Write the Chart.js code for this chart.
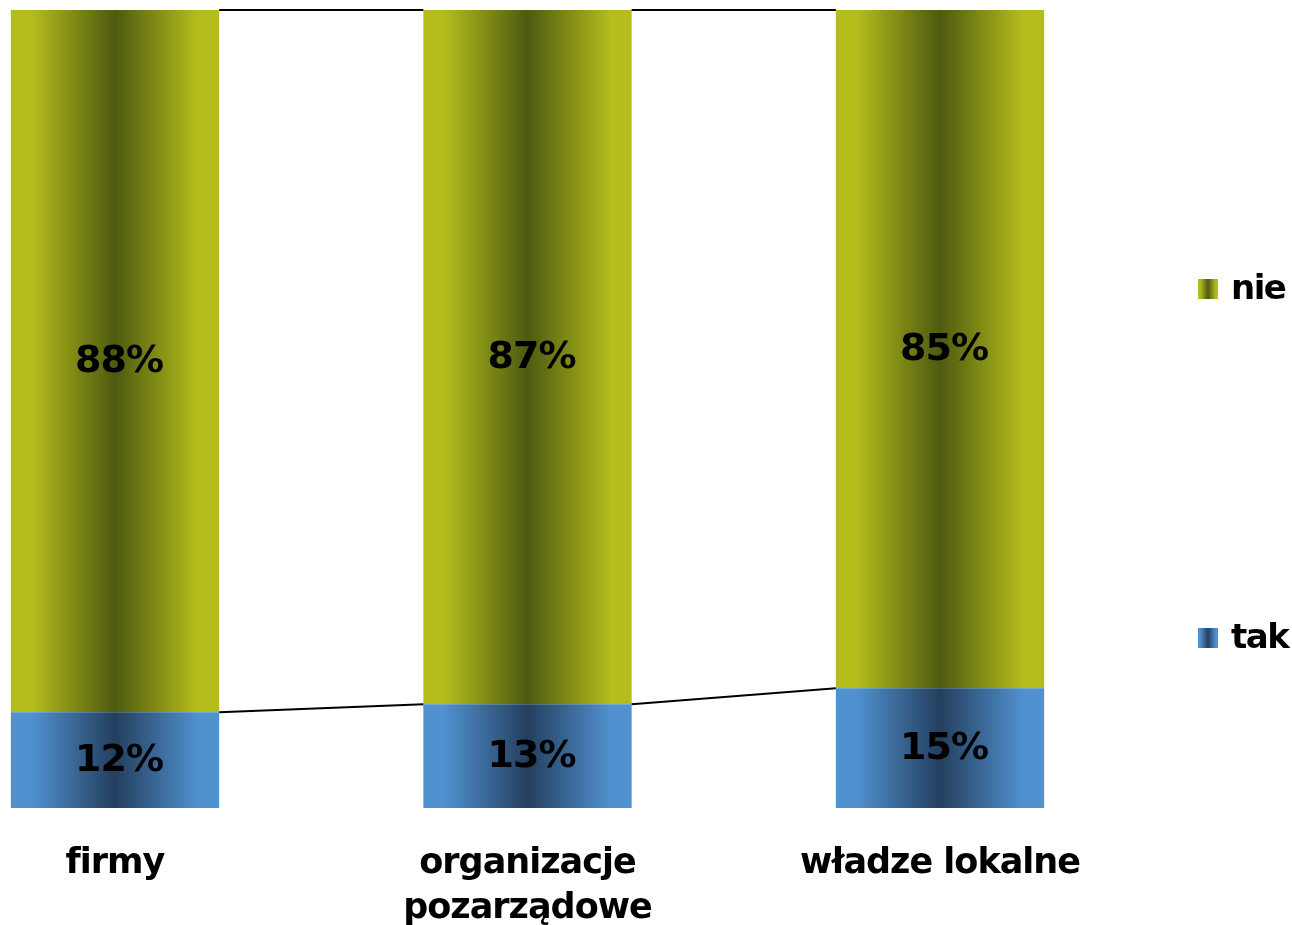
<!DOCTYPE html>
<html>
<head>
<meta charset="utf-8">
<script src="https://cdn.jsdelivr.net/npm/chart.js@4"></script>
<style>
  html, body { margin: 0; padding: 0; background: #fff; }
  #wrap { width: 1292px; height: 925px; position: relative; }
</style>
</head>
<body>
<div id="wrap"><canvas id="chart"></canvas></div>
<script>
// data
const categories = [["firmy"], ["organizacje", "pozarządowe"], ["władze lokalne"]];
const takValues = [12, 13, 15];
const nieValues = [88, 87, 85];
const seriesNames = ["tak", "nie"];

const FONT = "'DejaVu Sans', Verdana, sans-serif";
const BAR_PCT = 0.505;

// edge / centre colours of the horizontal "tube" fill
const shades = {
  tak: ["#5091cf", "#243f5f"],
  nie: ["#b4bd1c", "#4e5a10"]
};

function tube(ctx, x0, x1, pair) {
  const g = ctx.createLinearGradient(x0, 0, x1, 0);
  g.addColorStop(0, pair[0]);
  g.addColorStop(0.1, pair[0]);
  g.addColorStop(0.5, pair[1]);
  g.addColorStop(0.9, pair[0]);
  g.addColorStop(1, pair[0]);
  return g;
}

function barFill(context) {
  const chart = context.chart;
  const xs = chart.scales.x;
  const pair = shades[context.dataset.label];
  if (!xs || context.dataIndex === undefined) return pair[0];
  const step = xs.getPixelForValue(1) - xs.getPixelForValue(0);
  const cx = xs.getPixelForValue(context.dataIndex);
  if (!isFinite(step) || !isFinite(cx) || step <= 0) return pair[0];
  const half = step * BAR_PCT / 2;
  return tube(chart.ctx, cx - half, cx + half, pair);
}

// tighter lettering, like the original's condensed bold face
const tightText = {
  id: "tightText",
  beforeDraw(chart) { chart.ctx.letterSpacing = "-1px"; },
  afterDraw(chart) { chart.ctx.letterSpacing = "0px"; }
};

// series lines between bars + value labels inside
const seriesLines = {
  id: "seriesLines",
  afterDatasetsDraw(chart) {
    const ctx = chart.ctx;
    ctx.save();
    ctx.strokeStyle = "#000";
    ctx.lineWidth = 2;
    chart.data.datasets.forEach((ds, di) => {
      const bars = chart.getDatasetMeta(di).data;
      for (let i = 0; i < bars.length - 1; i++) {
        const a = bars[i], b = bars[i + 1];
        ctx.beginPath();
        ctx.moveTo(a.x + a.width / 2, a.y);
        ctx.lineTo(b.x - b.width / 2, b.y);
        ctx.stroke();
      }
    });
    ctx.fillStyle = "#000";
    ctx.font = "bold 38px " + FONT;
    ctx.textAlign = "center";
    ctx.textBaseline = "middle";
    chart.data.datasets.forEach((ds, di) => {
      chart.getDatasetMeta(di).data.forEach((bar, i) => {
        ctx.fillText(ds.data[i] + "%", bar.x + 4, (bar.y + bar.base) / 2 + 1);
      });
    });
    ctx.restore();
  }
};

// legend on the right, "nie" on top
const sideLegend = {
  id: "sideLegend",
  afterDraw(chart) {
    const ctx = chart.ctx;
    const items = [
      { name: seriesNames[1], y: 289 },
      { name: seriesNames[0], y: 638 }
    ];
    ctx.save();
    ctx.letterSpacing = "-1.5px";
    ctx.font = "bold 34px " + FONT;
    ctx.textBaseline = "middle";
    items.forEach(it => {
      ctx.fillStyle = tube(ctx, 1198, 1218, shades[it.name]);
      ctx.fillRect(1198, it.y - 10, 20, 20);
      ctx.fillStyle = "#000";
      ctx.fillText(it.name, 1231, it.y + 1);
    });
    ctx.restore();
  }
};

new Chart(document.getElementById("chart"), {
  type: "bar",
  data: {
    labels: categories,
    datasets: [
      { label: seriesNames[0], data: takValues, backgroundColor: barFill },
      { label: seriesNames[1], data: nieValues, backgroundColor: barFill }
    ]
  },
  options: {
    responsive: true,
    maintainAspectRatio: false,
    animation: false,
    layout: { padding: { left: 115, right: 352, top: 10, bottom: -40 } },
    datasets: {
      bar: { categoryPercentage: 1, barPercentage: BAR_PCT, clip: false, borderWidth: 0 }
    },
    plugins: {
      legend: { display: false },
      tooltip: { enabled: false }
    },
    scales: {
      x: {
        stacked: true,
        offset: false,
        grid: { display: false, drawTicks: false },
        border: { display: false },
        ticks: {
          color: "#000",
          font: { family: FONT, size: 35, weight: "bold", lineHeight: 1.3 },
          padding: 33,
          maxRotation: 0,
          minRotation: 0,
          autoSkip: false
        }
      },
      y: {
        stacked: true,
        display: false,
        min: 0,
        max: 100
      }
    }
  },
  plugins: [tightText, seriesLines, sideLegend]
});
</script>
</body>
</html>
